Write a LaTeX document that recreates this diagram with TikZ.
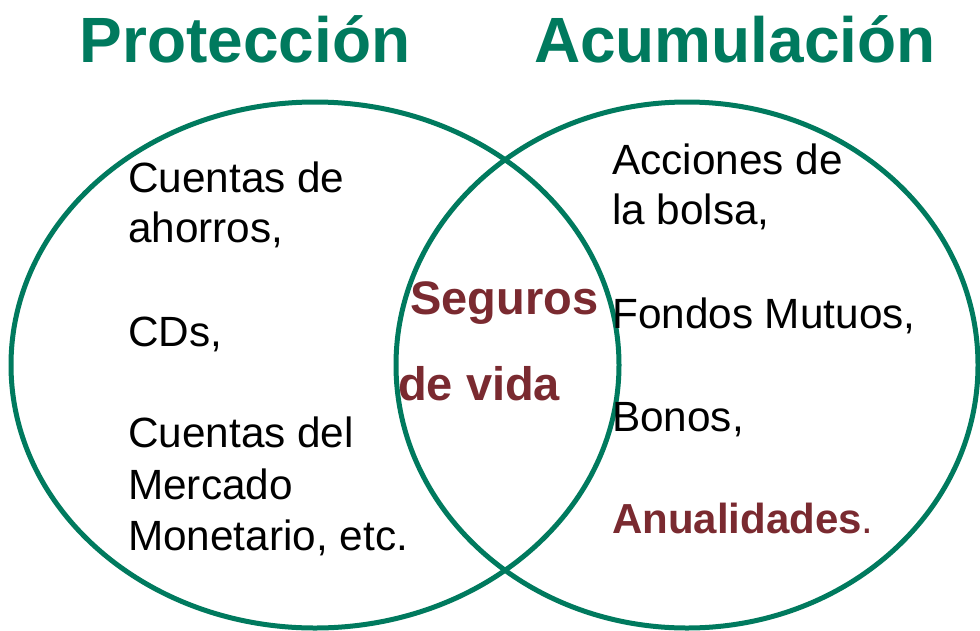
\documentclass[tikz,border=0pt]{standalone}
\usepackage{fontspec}
\setmainfont{Liberation Sans}
\definecolor{vgreen}{HTML}{007A5E}
\definecolor{vred}{HTML}{7A2A30}
\tikzset{
  venn/.style={draw=vgreen, line width=5pt},
  title/.style={anchor=base, inner sep=0pt, text=vgreen, font=\bfseries\fontsize{64}{70}\selectfont},
  item/.style={anchor=base west, inner sep=0pt, font=\fontsize{42.3}{50}\selectfont},
  hitem/.style={anchor=base west, inner sep=0pt, text=vred, font=\bfseries\fontsize{42}{50}\selectfont},
  mid/.style={anchor=base west, inner sep=0pt, text=vred, font=\bfseries\fontsize{47}{52}\selectfont}
}
\begin{document}
\begin{tikzpicture}[x=1pt,y=-1pt]
\useasboundingbox (0,0) rectangle (980,630);
\fill[white] (0,0) rectangle (980,630);
\draw[venn] (315,365) ellipse [x radius=304, y radius=263];
\draw[venn] (687,365) ellipse [x radius=291, y radius=263];
\node[title] (t1) at (245,62) {Protección};
\node[title] (t2) at (735,62) {Acumulación};
\node[item] (l1) at (128,192) {Cuentas de};
\node[item] (l2) at (128,242) {ahorros,};
\node[item] (l3) at (128,346) {CDs,};
\node[item] (l4) at (128,447) {Cuentas del};
\node[item] (l5) at (128,499) {Mercado};
\node[item] (l6) at (128,550) {Monetario, etc.};
\node[mid] (m1) at (410,314) {Seguros};
\node[mid] (m2) at (398,400) {de vida};
\node[item] (r1) at (612,174) {Acciones de};
\node[item] (r2) at (612,224) {la bolsa,};
\node[item] (r3) at (612,328) {Fondos Mutuos,};
\node[item] (r4) at (612,431) {Bonos,};
\node[hitem] (r5) at (612,533) {Anualidades\textmd{.}};
\end{tikzpicture}
\end{document}
